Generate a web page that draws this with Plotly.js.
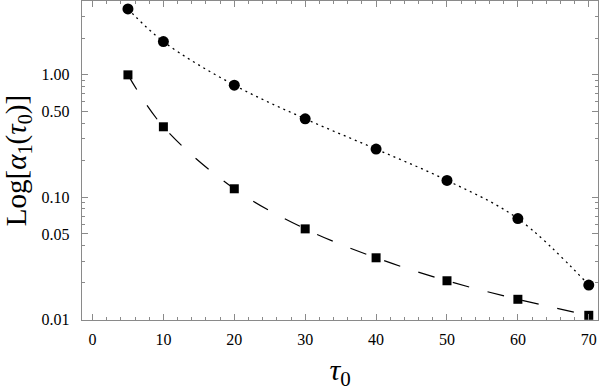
<!DOCTYPE html>
<html>
<head>
<meta charset="utf-8">
<script src="https://cdn.plot.ly/plotly-3.0.1.min.js"></script>
<style>html,body{margin:0;padding:0;background:#fff;}#chart{width:600px;height:391px;}</style>
</head>
<body>
<div id="chart"></div>
<script>
const tau = [5, 10, 20, 30, 40, 50, 60, 70];
const circleVals = [3.46, 1.87, 0.824, 0.437, 0.247, 0.137, 0.0667, 0.0191];
const squareVals = [1.0, 0.376, 0.117, 0.055, 0.0319, 0.0207, 0.0146, 0.0108];
const yTickVals = [0.01, 0.05, 0.1, 0.5, 1];
const yTickText = ['0.01', '0.05', '0.10', '0.50', '1.00'];
const yMinorVals = [0.02, 0.03, 0.04, 0.06, 0.07, 0.08, 0.09, 0.2, 0.3, 0.4, 0.6, 0.7, 0.8, 0.9, 2, 3, 4];
const xTickVals = [0, 10, 20, 30, 40, 50, 60, 70];

const font = {family: 'Liberation Serif', color: '#000'};
const axisColor = '#8a8a8a';

const traces = [
  {x: tau, y: circleVals, mode: 'lines', line: {shape: 'spline', color: '#000', width: 1.3, dash: '2px,4px'}, hoverinfo: 'skip'},
  {x: tau, y: circleVals, mode: 'markers', marker: {symbol: 'circle', size: 11, color: '#000'}},
  {x: tau, y: squareVals, mode: 'lines', line: {shape: 'spline', color: '#000', width: 1.2, dash: '17px,19px'}, hoverinfo: 'skip'},
  {x: tau, y: squareVals, mode: 'markers', marker: {symbol: 'square', size: 9, color: '#000'}}
];

const layout = {
  width: 600, height: 391,
  margin: {l: 82, r: 2, t: 1, b: 71},
  showlegend: false,
  paper_bgcolor: '#fff', plot_bgcolor: '#fff',
  font: Object.assign({size: 16}, font),
  xaxis: {
    range: [-1.48, 71.3],
    tickmode: 'array', tickvals: xTickVals,
    ticks: 'inside', ticklen: 6, tickwidth: 1, tickcolor: axisColor,
    minor: {dtick: 2, tick0: 0, ticks: 'inside', ticklen: 3, tickcolor: axisColor, tickwidth: 1},
    showline: true, linecolor: axisColor, linewidth: 1.2, mirror: 'ticks',
    showgrid: false, zeroline: false,
    ticklabelstandoff: 5,
    tickfont: Object.assign({size: 16}, font),
    title: {text: '<i>τ</i><sub>0</sub>', font: Object.assign({size: 30}, font), standoff: 12}
  },
  yaxis: {
    type: 'log',
    range: [-2.005, 0.604],
    tickmode: 'array', tickvals: yTickVals, ticktext: yTickText,
    ticks: 'inside', ticklen: 6, tickwidth: 1, tickcolor: axisColor,
    minor: {tickmode: 'array', tickvals: yMinorVals, ticks: 'inside', ticklen: 3, tickcolor: axisColor, tickwidth: 1},
    showline: true, linecolor: axisColor, linewidth: 1.2, mirror: 'ticks',
    showgrid: false, zeroline: false,
    ticklabelstandoff: 8,
    tickfont: Object.assign({size: 16}, font),
    title: {text: 'Log[<i>α</i><sub>1</sub>(<i>τ</i><sub>0</sub>)]', font: Object.assign({size: 29}, font), standoff: 12}
  }
};

Plotly.newPlot('chart', traces, layout, {displayModeBar: false, staticPlot: true});
</script>
</body>
</html>
